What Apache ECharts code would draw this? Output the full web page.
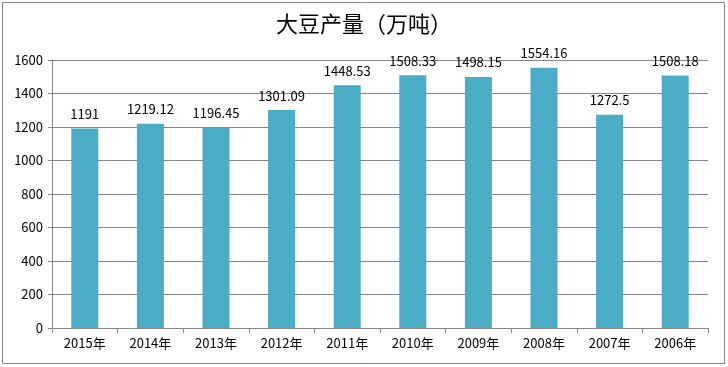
<!DOCTYPE html>
<html><head><meta charset="utf-8">
<script src="https://cdn.jsdelivr.net/npm/echarts@6/dist/echarts.min.js"></script>
<style>html,body{margin:0;padding:0;background:#fff}#c{width:728px;height:367px}</style>
</head><body><div id="c"></div>
<script>
const categories = ['2015年','2014年','2013年','2012年','2011年','2010年','2009年','2008年','2007年','2006年'];
const values = [1191, 1219.12, 1196.45, 1301.09, 1448.53, 1508.33, 1498.15, 1554.16, 1272.5, 1508.18];
const yTicks = [0, 200, 400, 600, 800, 1000, 1200, 1400, 1600];
const chart = echarts.init(document.getElementById('c'), null, {renderer: 'canvas'});
const font = '"Noto Sans CJK SC", "Noto Sans", sans-serif';
chart.setOption({
  animation: false,
  title: {
    text: '大豆产量（万吨）', left: 'center', top: 8,
    textStyle: {fontFamily: font, fontSize: 22, fontWeight: 'normal', color: '#000'}
  },
  graphic: [{type: 'rect', shape: {x: 2.5, y: 2.5, width: 722, height: 361}, style: {fill: null, stroke: '#868686', lineWidth: 1}, silent: true}],
  grid: {left: 52, right: 20, top: 60, bottom: 39},
  xAxis: {
    type: 'category', data: categories,
    axisLine: {lineStyle: {color: '#868686'}},
    axisTick: {show: true, length: 5, lineStyle: {color: '#868686'}},
    axisLabel: {fontFamily: font, fontSize: 13, color: '#000', margin: 9}
  },
  yAxis: {
    type: 'value', min: yTicks[0], max: yTicks[yTicks.length - 1], interval: 200,
    axisLine: {show: true, lineStyle: {color: '#868686'}},
    axisTick: {show: true, length: 4, lineStyle: {color: '#868686'}},
    axisLabel: {fontFamily: font, fontSize: 13, color: '#000', margin: 9, formatter: v => String(v)},
    splitLine: {lineStyle: {color: '#868686'}}
  },
  series: [{
    type: 'bar', data: values, barWidth: 27,
    itemStyle: {color: '#4BACC6'},
    label: {show: true, position: 'top', distance: 8, fontFamily: font, fontSize: 13, color: '#000'}
  }]
});
</script></body></html>
